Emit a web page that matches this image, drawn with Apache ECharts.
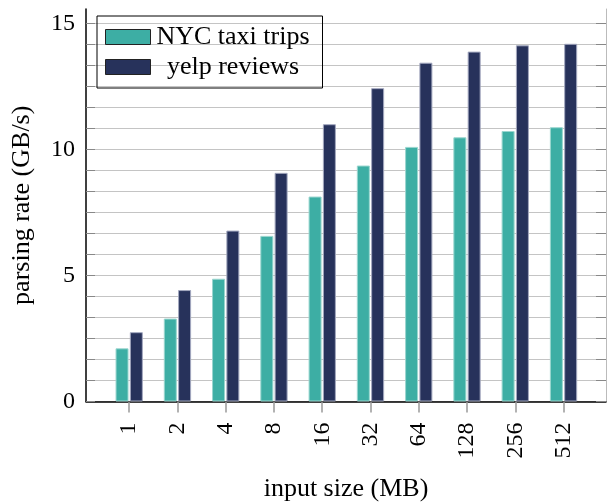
<!DOCTYPE html>
<html><head><meta charset="utf-8">
<script src="https://cdn.jsdelivr.net/npm/echarts@6/dist/echarts.min.js"></script>
<style>html,body{margin:0;padding:0;background:#fff}#c{width:607px;height:502px}</style>
</head><body><div id="c"></div>
<script>
const categories = ['1','2','4','8','16','32','64','128','256','512'];
const nycTaxi = [2.11, 3.29, 4.87, 6.57, 8.13, 9.36, 10.1, 10.48, 10.73, 10.88];
const yelpReviews = [2.75, 4.42, 6.78, 9.07, 11.0, 12.43, 13.44, 13.88, 14.13, 14.19];
const yTickLabels = [0, 5, 10, 15];
const yGrid = [0,1,2,3,4,5,6,7,8,9,10,11,12,13,14,15,16,17,18].map(k => k*5/6);

const FONT = 'Liberation Serif';
const FS = 26;
const TS = 24;
const chart = echarts.init(document.getElementById('c'), null, {renderer:'canvas'});
const xIdx = categories.map((c,i)=>i);
const legendBorder = {borderColor:'#222', borderWidth:1};
chart.setOption({
  animation:false,
  textStyle:{fontFamily:FONT},
  grid:{left:86,right:1,top:9,bottom:100.5,containLabel:false,outerBoundsMode:'none'},
  legend:{
    orient:'vertical', left:97, top:16,
    icon:'rect',
    itemWidth:45, itemHeight:15, itemGap:4,
    padding:[8,12,8,8],
    borderColor:'#000', borderWidth:1,
    formatter: n => '{c|'+n+'}',
    textStyle:{fontFamily:FONT, fontSize:FS, color:'#000',
      rich:{c:{fontFamily:FONT, fontSize:FS, width:155, align:'center', lineHeight:28}}},
    data:[{name:'NYC taxi trips', itemStyle:legendBorder},{name:'yelp reviews', itemStyle:legendBorder}]
  },
  xAxis:{
    type:'value', min:-0.895, max:9.88,
    name:'input size (MB)', nameLocation:'middle', nameGap:75,
    nameTextStyle:{fontFamily:FONT,fontSize:FS,color:'#000'},
    axisLine:{show:true,onZero:false,lineStyle:{color:'#000',width:1.5}},
    axisTick:{show:true,customValues:xIdx,length:11,inside:false,lineStyle:{color:'#999',width:1.5}},
    axisLabel:{show:true,customValues:xIdx,rotate:90,margin:21,fontFamily:FONT,fontSize:TS,color:'#000',
      formatter:v=>categories[Math.round(v)]},
    splitLine:{show:false}
  },
  yAxis:[{
    type:'value', min:0, max:15.57,
    name:'parsing rate (GB/s)', nameLocation:'middle', nameGap:51,
    nameTextStyle:{fontFamily:FONT,fontSize:FS,color:'#000'},
    axisLine:{show:true,onZero:false,lineStyle:{color:'#000',width:1.5}},
    axisTick:{show:true,inside:true,length:9,customValues:yGrid,lineStyle:{color:'#888'}},
    axisLabel:{customValues:yTickLabels,margin:11,fontFamily:FONT,fontSize:TS,color:'#000'},
    splitLine:{show:true,lineStyle:{color:'#c4c4c4',width:1.2}}
  },{
    type:'value', min:0, max:15.57, position:'right',
    axisLine:{show:true,onZero:false,lineStyle:{color:'#bbb',width:1}},
    axisTick:{show:true,inside:true,length:10,customValues:yGrid,lineStyle:{color:'#888'}},
    axisLabel:{show:false},
    splitLine:{show:false}
  }],
  series:[{
    name:'NYC taxi trips', type:'bar', barWidth:13, barGap:'10%',
    itemStyle:{color:'#3daea4',borderColor:'#9ad6cf',borderWidth:1},
    data:nycTaxi.map((v,i)=>[i,v])
  },{
    name:'yelp reviews', type:'bar', barWidth:13, barGap:'10%',
    itemStyle:{color:'#27325b',borderColor:'#a3a8bf',borderWidth:1},
    data:yelpReviews.map((v,i)=>[i,v])
  }]
});
</script></body></html>
